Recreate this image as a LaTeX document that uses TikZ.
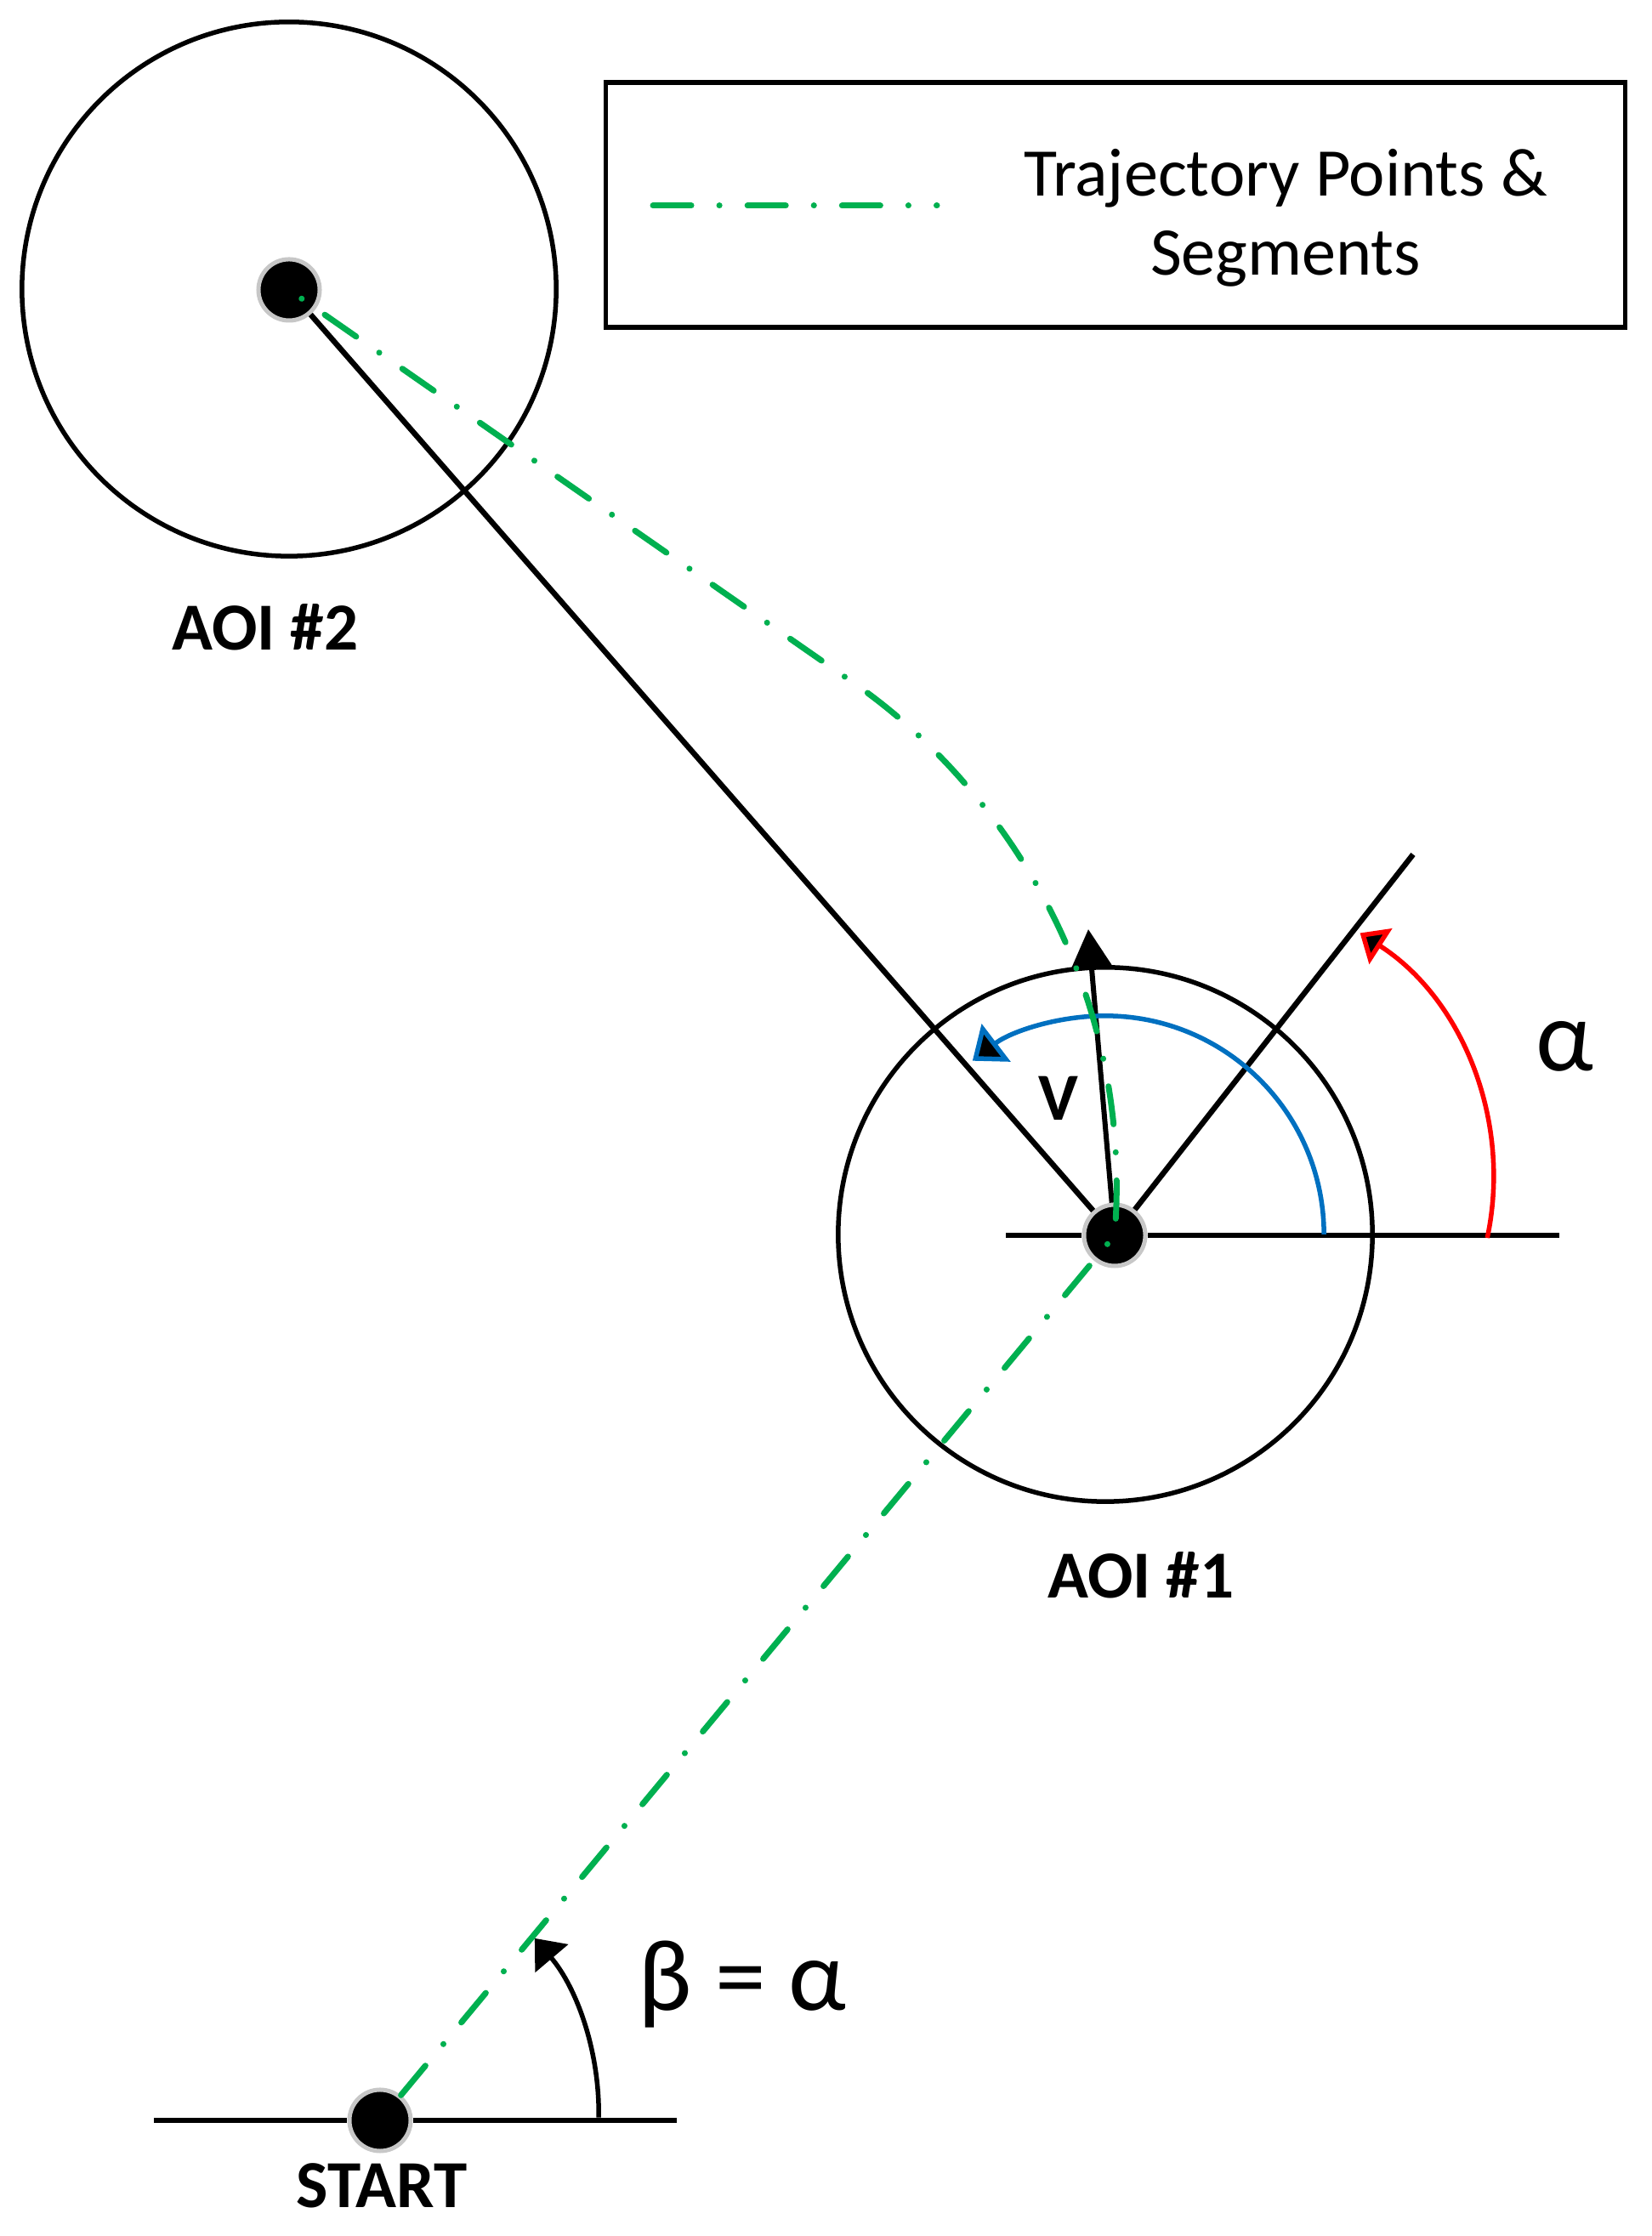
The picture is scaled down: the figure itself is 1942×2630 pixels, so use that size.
\documentclass[tikz,border=0pt]{standalone}
\usepackage{fontspec}
\setmainfont{Carlito}
\usetikzlibrary{arrows.meta}
\definecolor{trajgreen}{RGB}{0,176,80}
\definecolor{arcblue}{RGB}{0,112,192}

\begin{document}
\begin{tikzpicture}[x=0.01cm, y=0.01cm,
  traj/.style={draw=trajgreen, line width=0.07cm, line cap=round,
    dash pattern=on 0.45cm off 0.33cm on 0.001cm off 0.33cm},
  dot/.style={circle, fill=black, draw=black!22, line width=0.05cm,
    minimum size=0.72cm, inner sep=0pt},
  aoi/.style={circle, draw, line width=0.055cm, minimum size=6.28cm, inner sep=0pt},
  lbl/.style={font=\fontsize{22.5}{27}\selectfont\bfseries, inner sep=0pt},
  greek/.style={font=\fontsize{34}{40}\selectfont, inner sep=0pt}]
\useasboundingbox (0,0) rectangle (1942,2630);

% areas of interest and points
\node[aoi] (ring2) at (340,2290) {};
\node[aoi] (ring1) at (1300,1178) {};
\node[dot] (aoi2) at (340,2289) {};
\node[dot] (aoi1) at (1311,1177) {};
\node[dot] (start) at (447,136) {};

\coordinate (h1w) at (1183,1177);
\coordinate (h1e) at (1834,1177);
\coordinate (rayend) at (1662,1625);
\coordinate (vtip) at (1280,1537);
\coordinate (h0w) at (181,136);
\coordinate (h0e) at (796,136);
\coordinate (bend) at (1005,1826);
\coordinate (redc) at (1415,1245);
\coordinate (betac) at (387,145);

% reference lines
\draw[line width=0.065cm] (h1w) -- (aoi1) -- (h1e);
\draw[line width=0.065cm] (h0w) -- (start) -- (h0e);
\draw[line width=0.065cm] (aoi2) -- (aoi1) -- (rayend);
\draw[line width=0.06cm, -{Triangle[length=0.44cm, width=0.46cm]}] (aoi1) -- (vtip);

% angles
\draw[arcblue, line width=0.055cm, -{Triangle[length=0.35cm, width=0.55cm, fill=black]}]
  ([shift={(0:2.57cm)}]ring1.center) arc[start angle=0, end angle=127.4, radius=2.57cm];
\draw[red, line width=0.055cm, -{Triangle[length=0.29cm, width=0.49cm, fill=black]}]
  ([shift={(-12:3.415cm)}]redc) arc[start angle=-12, end angle=57.3, radius=3.415cm];
\draw[line width=0.055cm, -{Triangle[length=0.31cm, width=0.5cm]}]
  ([shift={(-1:3.17cm)}]betac) arc[start angle=-1, end angle=40.3, radius=3.17cm];

% trajectory
\draw[traj] (start) -- (aoi1.center)
  .. controls (1335,1480) and (1169,1712) .. (bend) -- (aoi2.center);

% legend
\node[draw, line width=0.055cm, minimum width=11.98cm, minimum height=2.88cm] (legend) at (1312,2389) {};
\coordinate (keyw) at (768,2388);
\coordinate (keye) at (1102,2388);
\draw[traj] (keyw) -- (keye);
\node[font=\fontsize{22.8}{26.5}\selectfont, align=center, inner sep=0pt] (keytext) at (1512,2374)
  {Trajectory Points \&\\Segments};

% labels
\node[lbl] (aoi2lbl) at (312,1892) {AOI \#2};
\node[lbl] (aoi1lbl) at (1342,777) {AOI \#1};
\node[lbl] (startlbl) at (449,59) {START};
\node[lbl] (vlbl) at (1245,1338) {V};
\node[greek] (alphalbl) at (1840,1399) {α};
\node[greek] (betalbl) at (873,296) {β = α};
\end{tikzpicture}
\end{document}
